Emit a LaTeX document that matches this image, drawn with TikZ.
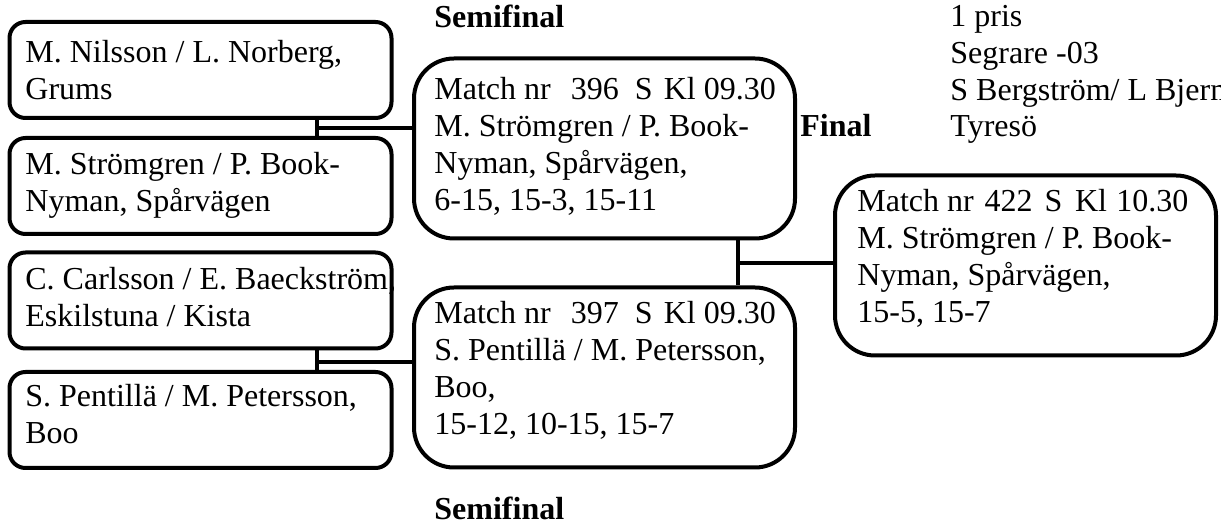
\documentclass[tikz,border=0pt]{standalone}
\usepackage{fontspec}
\setmainfont{Liberation Serif}
\usetikzlibrary{positioning, calc}

\begin{document}
\begin{tikzpicture}[x=0.5pt, y=-0.5pt,
    teambox/.style={draw, line width=2pt, rounded corners=8pt,
      minimum width=191pt, minimum height=48pt, inner sep=0pt},
    matchbox/.style={draw, line width=2pt, rounded corners=20pt,
      minimum width=190.5pt, minimum height=90pt, inner sep=0pt},
    txt/.style={anchor=base west, align=left, inner sep=0pt,
      font=\fontsize{16pt}{18.5pt}\selectfont},
    head/.style={anchor=base west, inner sep=0pt,
      font=\fontsize{16pt}{18pt}\selectfont\bfseries},
    link/.style={line width=2pt}]
  \useasboundingbox (0,0) rectangle (1221,528);
  % Quarter final teams
  \node[teambox] (p1) at (200.5,70) {};
  \node[teambox] (p2) at (200.5,186) {};
  \node[teambox] (p3) at (200.5,300.5) {};
  \node[teambox] (p4) at (200.5,420) {};
  % (base = last line)
  \node[txt] (p1t) at (25,100) {M. Nilsson / L. Norberg,\\Grums};
  \node[txt] (p2t) at (25,212) {M. Strömgren / P. Book-\\Nyman, Spårvägen};
  \node[txt] (p3t) at (25,327) {C. Carlsson / E. Baeckström,\\Eskilstuna / Kista};
  \node[txt] (p4t) at (25,444) {S. Pentillä / M. Petersson,\\Boo};
  % Semifinals
  \node[matchbox] (m396) at (604.5,148.5) {};
  \node[matchbox] (m397) at (604.5,377.5) {};
  \node[txt] (m396t) at (434,211)
    {Match nr\hspace{10pt}396\hspace{8pt}S\hspace{5.6pt}Kl\hspace{4pt}09.30\\
     M. Strömgren / P. Book-\\Nyman, Spårvägen,\\6-15, 15-3, 15-11};
  \node[txt] (m397t) at (434,435)
    {Match nr\hspace{10pt}397\hspace{8pt}S\hspace{5.6pt}Kl\hspace{4pt}09.30\\
     S. Pentillä / M. Petersson,\\Boo,\\15-12, 10-15, 15-7};
  % Final
  \node[matchbox] (m422) at (1025.5,265.5) {};
  \node[txt] (m422t) at (857,323)
    {Match nr\hspace{5.4pt}422\hspace{6pt}S\hspace{6.3pt}Kl\hspace{4.7pt}10.30\\
     M. Strömgren / P. Book-\\Nyman, Spårvägen,\\15-5, 15-7};
  % Headings
  \node[head] (semi1) at (434,28) {Semifinal};
  \node[head] (semi2) at (434,520) {Semifinal};
  \node[head] (fin) at (800,137) {Final};
  \node[txt, font=\fontsize{16pt}{18.35pt}\selectfont] (prize) at (950,137)
    {1 pris\\Segrare -03\\S Bergström/ L Bjerm\\Tyresö};
  % Brackets
  \coordinate (j1) at (317,128);
  \coordinate (j2) at (317,362);
  \coordinate (j3) at (738,263);
  \draw[link] (p1.south -| j1) -- (p2.north -| j1);
  \draw[link] (j1) -- (j1 -| m396.west);
  \draw[link] (p3.south -| j2) -- (p4.north -| j2);
  \draw[link] (j2) -- (j2 -| m397.west);
  \draw[link] (m396.south -| j3) -- (m397.north -| j3);
  \draw[link] (j3) -- (j3 -| m422.west);
\end{tikzpicture}
\end{document}
